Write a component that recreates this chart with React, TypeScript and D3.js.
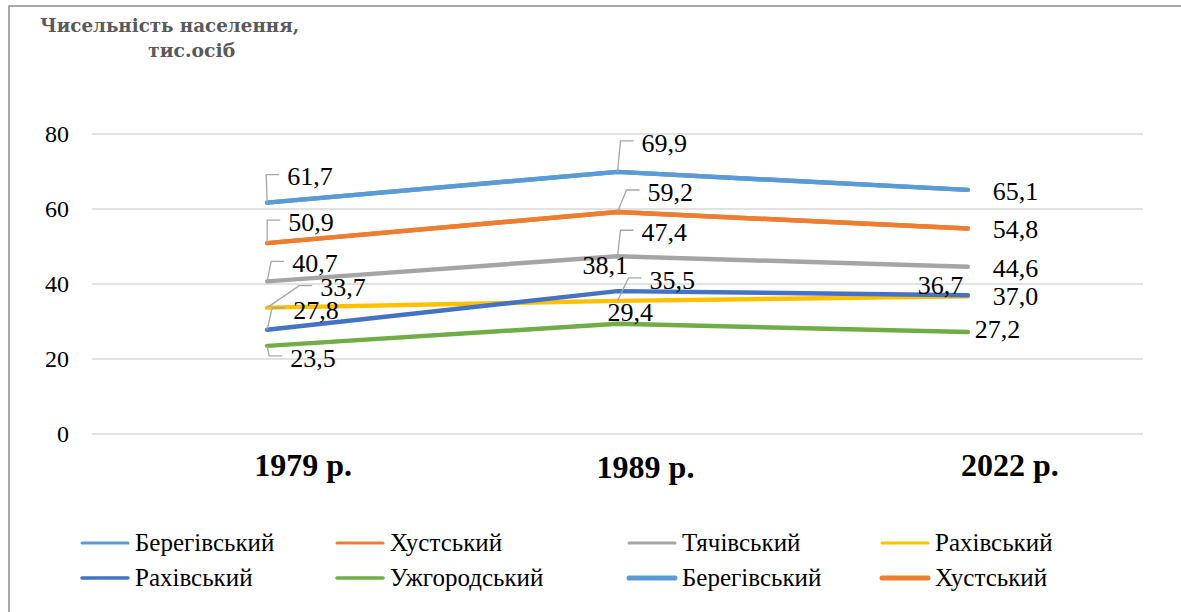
import * as d3 from "d3";

// Population of districts, thousand people
const years = ["1979 р.", "1989 р.", "2022 р."];
const yTicks = [0, 20, 40, 60, 80];

const seriesNames = [
  "Берегівський",
  "Хустський",
  "Тячівський",
  "Рахівський",
  "Рахівський",
  "Ужгородський",
  "Берегівський",
  "Хустський",
];
const berehove = [61.7, 69.9, 65.1];
const khust = [50.9, 59.2, 54.8];
const tiachiv = [40.7, 47.4, 44.6];
const rakhivYellow = [33.7, 35.5, 36.7];
const rakhivBlue = [27.8, 38.1, 37.0];
const uzhhorod = [23.5, 29.4, 27.2];

const seriesValues = [berehove, khust, tiachiv, rakhivYellow, rakhivBlue, uzhhorod, berehove, khust];

const COLORS = ["#5B9BD5", "#ED7D31", "#A5A5A5", "#FFC000", "#4472C4", "#70AD47", "#5B9BD5", "#ED7D31"];
const LEGEND_WIDTH = [3, 3, 3, 3, 3.5, 3.5, 5, 5];
const SHOW_LABELS = [true, true, true, true, true, true, false, false];

// manual label placement: [dx to text start, dy to text middle, leader line]
type LabelPos = [number, number, boolean] | null;
const LABEL_POS: LabelPos[][] = [
  [[20, -26, true], [24, -29, true], null],
  [[21, -21, true], [30, -20, true], null],
  [[25, -18, true], [24, -24, true], null],
  [[53, -20, true], [32, -21, true], [-50, -11, false]],
  [[26, -20, true], [-35, -26, false], null],
  [[23, 12, true], [-10, -12, false], [7, -3, false]],
];

// category labels sit off-centre in the source
const YEAR_DX = [36, 28, 42];
const YEAR_DY = [0, 2, 0];

const W = 1181;
const H = 612;
const margin = { left: 92, right: 38, top: 134, bottom: 178 };
const LEGEND_COLS = [80, 335, 627, 880];
const LEGEND_ROWS = [543, 578];
const SERIF = "Liberation Serif";

const x = d3.scaleBand<string>().domain(years).range([margin.left, W - margin.right]);
const y = d3.scaleLinear().domain([0, 80]).range([H - margin.bottom, margin.top]);
const cx = (i: number) => (x(years[i]) ?? 0) + x.bandwidth() / 2;
const line = d3
  .line<number>()
  .x((_, i) => cx(i))
  .y((d) => y(d));
const fmt = (v: number) => d3.format(".1f")(v).replace(".", ",");

export default function App() {
  return (
    <svg
      width={W}
      height={H}
      style={{ position: "absolute", left: 0, top: 0, background: "#fff" }}
    >
      {/* frame */}
      <rect x={9} y={6} width={W + 20} height={H + 20} fill="#fff" stroke="#8C8C8C" strokeWidth={1.5} />

      {/* title */}
      <g style={{ fontFamily: "DejaVu Serif" }} fontWeight="bold" fill="#595959">
        <text x={40} y={32} fontSize={18.3}>Чисельність населення,</text>
        <text x={148} y={57} fontSize={18.8}>тис.осіб</text>
      </g>

      {/* grid + y ticks */}
      <g>
        {yTicks.map((t) => (
          <g key={t}>
            <line x1={margin.left} x2={W - margin.right} y1={y(t)} y2={y(t)} stroke="#D9D9D9" strokeWidth={1.3} />
            <text
              x={69}
              y={y(t)}
              dy="0.34em"
              textAnchor="end"
              style={{ fontFamily: SERIF }}
              fontSize={24}
              fill="#000"
            >
              {t}
            </text>
          </g>
        ))}
      </g>

      {/* x labels */}
      <g>
        {years.map((yr, i) => (
          <text
            key={yr}
            x={cx(i) + YEAR_DX[i]}
            y={465 + YEAR_DY[i]}
            dy="0.34em"
            textAnchor="middle"
            style={{ fontFamily: SERIF }}
            fontWeight="bold"
            fontSize={32}
          >
            {yr}
          </text>
        ))}
      </g>

      {/* lines */}
      <g>
        {seriesValues.map((vals, s) => (
          <path
            key={s}
            d={line(vals) ?? ""}
            fill="none"
            stroke={COLORS[s]}
            strokeWidth={4.5}
            strokeLinecap="round"
            strokeLinejoin="round"
          />
        ))}
      </g>

      {/* data labels */}
      <g>
        {seriesValues.map((vals, s) =>
          SHOW_LABELS[s]
            ? vals.map((v, i) => {
                const px = cx(i);
                const py = y(v);
                const pos = LABEL_POS[s][i] ?? [25, 1, false];
                const tx = px + pos[0];
                const ty = py + pos[1];
                const hy = ty - 2;
                return (
                  <g key={`${s}-${i}`}>
                    {pos[2] && (
                      <polyline
                        points={`${px},${py} ${tx - 21},${hy} ${tx - 8},${hy}`}
                        fill="none"
                        stroke="#A6A6A6"
                        strokeWidth={1.3}
                      />
                    )}
                    <text x={tx} y={ty} dy="0.34em" style={{ fontFamily: SERIF }} fontSize={26} fill="#000">
                      {fmt(v)}
                    </text>
                  </g>
                );
              })
            : null
        )}
      </g>

      {/* legend */}
      <g>
        {seriesNames.map((name, s) => {
          const lx = LEGEND_COLS[s % 4];
          const ly = LEGEND_ROWS[Math.floor(s / 4)];
          return (
            <g key={s}>
              <line
                x1={lx + 2}
                x2={lx + 48}
                y1={ly}
                y2={ly}
                stroke={COLORS[s]}
                strokeWidth={LEGEND_WIDTH[s]}
                strokeLinecap="round"
              />
              <text x={lx + 55} y={ly} dy="0.33em" style={{ fontFamily: SERIF }} fontSize={25} fill="#000">
                {name}
              </text>
            </g>
          );
        })}
      </g>
    </svg>
  );
}
